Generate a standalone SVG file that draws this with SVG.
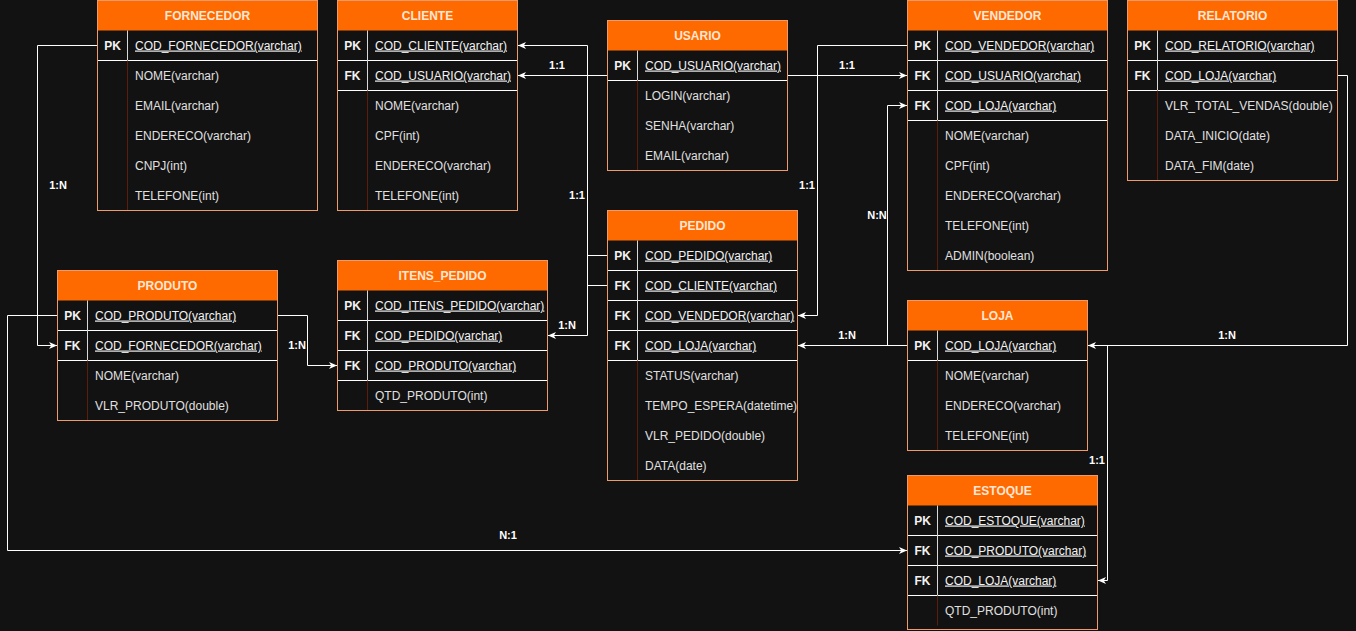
<svg xmlns="http://www.w3.org/2000/svg" width="1356" height="631" viewBox="0 0 1356 631">
  <defs>
    <style>
      .bg { fill: #121212; }
      .body { fill: #121212; stroke: none; }
      .head { fill: #FF6A00; stroke: none; }
      .frame { fill: none; stroke: #EE9A6A; stroke-width: 1; }
      .sep { stroke: #FFFFFF; stroke-width: 1; }
      .kdiv { stroke: #D8D8D8; stroke-width: 1; }
      .ddiv { stroke: #5A1E0A; stroke-width: 1; }
      .title { font-family: "Liberation Sans", Helvetica, Arial, sans-serif; font-size: 12px; font-weight: bold; fill: #FFE6D5; text-anchor: middle; }
      .key { font-family: "Liberation Sans", Helvetica, Arial, sans-serif; font-size: 12px; font-weight: bold; fill: #F2F2F2; text-anchor: middle; }
      .kname { font-family: "Liberation Sans", Helvetica, Arial, sans-serif; font-size: 12px; fill: #F2F2F2; text-decoration: underline; }
      .field { font-family: "Liberation Sans", Helvetica, Arial, sans-serif; font-size: 12px; fill: #E0E0E0; }
      .edge { fill: none; stroke: #FFFFFF; stroke-width: 1; marker-end: url(#arrow); }
      .line { fill: none; stroke: #FFFFFF; stroke-width: 1; }
      .card { font-family: "Liberation Sans", Helvetica, Arial, sans-serif; font-size: 11px; font-weight: bold; fill: #FFFFFF; text-anchor: middle; }
    </style>
    <marker id="arrow" markerUnits="userSpaceOnUse" markerWidth="9" markerHeight="8" refX="8" refY="4" orient="auto" viewBox="0 0 9 8">
      <path d="M0,0.5 L8,4 L0,7.5 L2.2,4 Z" fill="#FFFFFF"/>
    </marker>
  </defs>

  <rect class="bg" x="0" y="0" width="1356" height="631"/>

  <!-- relationship lines -->
  <g id="connectors">
    <path class="edge" d="M97.5,45.5 H37.5 V345.5 H57"/>
    <path class="edge" d="M57.5,315.5 H7.5 V550.5 H907"/>
    <path class="edge" d="M277.5,315.5 H307.5 V365.5 H337"/>
    <path class="edge" d="M607.5,255.5 H587.5 V335.5 H548"/>
    <path class="edge" d="M607.5,285.5 H587.5 V45.5 H518"/>
    <path class="edge" d="M607.5,75.5 H518"/>
    <path class="edge" d="M787.5,75.5 H907"/>
    <path class="edge" d="M907.5,45.5 H817.5 V315.5 H798"/>
    <path class="edge" d="M907.5,345.5 H798"/>
    <path class="edge" d="M887.5,345.5 V105.5 H907"/>
    <path class="edge" d="M1337.5,75.5 H1347.5 V345.5 H1088"/>
    <path class="edge" d="M1087.5,345.5 H1107.5 V580.5 H1098"/>

    <text class="card" x="58" y="189">1:N</text>
    <text class="card" x="508" y="539">N:1</text>
    <text class="card" x="297" y="349">1:N</text>
    <text class="card" x="567" y="329">1:N</text>
    <text class="card" x="577" y="199">1:1</text>
    <text class="card" x="557" y="69">1:1</text>
    <text class="card" x="847" y="69">1:1</text>
    <text class="card" x="807" y="189">1:1</text>
    <text class="card" x="847" y="339">1:N</text>
    <text class="card" x="877" y="219">N:N</text>
    <text class="card" x="1227" y="339">1:N</text>
    <text class="card" x="1097" y="464">1:1</text>
  </g>

  <!-- FORNECEDOR -->
  <g id="fornecedor">
    <rect class="body" x="97.5" y="0.5" width="220" height="210"/>
    <rect class="head" x="97.5" y="0.5" width="220" height="30"/>
    <text class="title" x="207.5" y="19.5">FORNECEDOR</text>
    <line class="sep" x1="97.5" y1="60.5" x2="317.5" y2="60.5"/>
    <line class="kdiv" x1="127.5" y1="30.5" x2="127.5" y2="60.5"/>
    <line class="ddiv" x1="127.5" y1="60.5" x2="127.5" y2="210.5"/>
    <text class="key" x="112.5" y="49.5">PK</text>
    <text class="kname" x="135" y="49.5">COD_FORNECEDOR(varchar)</text>
    <text class="field" x="135" y="79.5">NOME(varchar)</text>
    <text class="field" x="135" y="109.5">EMAIL(varchar)</text>
    <text class="field" x="135" y="139.5">ENDERECO(varchar)</text>
    <text class="field" x="135" y="169.5">CNPJ(int)</text>
    <text class="field" x="135" y="199.5">TELEFONE(int)</text>
    <rect class="frame" x="97.5" y="0.5" width="220" height="210"/>
  </g>

  <!-- CLIENTE -->
  <g id="cliente">
    <rect class="body" x="337.5" y="0.5" width="180" height="210"/>
    <rect class="head" x="337.5" y="0.5" width="180" height="30"/>
    <text class="title" x="427.5" y="19.5">CLIENTE</text>
    <line class="sep" x1="337.5" y1="60.5" x2="517.5" y2="60.5"/>
    <line class="sep" x1="337.5" y1="90.5" x2="517.5" y2="90.5"/>
    <line class="kdiv" x1="367.5" y1="30.5" x2="367.5" y2="90.5"/>
    <line class="ddiv" x1="367.5" y1="90.5" x2="367.5" y2="210.5"/>
    <text class="key" x="352.5" y="49.5">PK</text>
    <text class="kname" x="375" y="49.5">COD_CLIENTE(varchar)</text>
    <text class="key" x="352.5" y="79.5">FK</text>
    <text class="kname" x="375" y="79.5">COD_USUARIO(varchar)</text>
    <text class="field" x="375" y="109.5">NOME(varchar)</text>
    <text class="field" x="375" y="139.5">CPF(int)</text>
    <text class="field" x="375" y="169.5">ENDERECO(varchar)</text>
    <text class="field" x="375" y="199.5">TELEFONE(int)</text>
    <rect class="frame" x="337.5" y="0.5" width="180" height="210"/>
  </g>

  <!-- USARIO -->
  <g id="usario">
    <rect class="body" x="607.5" y="20.5" width="180" height="150"/>
    <rect class="head" x="607.5" y="20.5" width="180" height="30"/>
    <text class="title" x="697.5" y="39.5">USARIO</text>
    <line class="sep" x1="607.5" y1="80.5" x2="787.5" y2="80.5"/>
    <line class="kdiv" x1="637.5" y1="50.5" x2="637.5" y2="80.5"/>
    <line class="ddiv" x1="637.5" y1="80.5" x2="637.5" y2="170.5"/>
    <text class="key" x="622.5" y="69.5">PK</text>
    <text class="kname" x="645" y="69.5">COD_USUARIO(varchar)</text>
    <text class="field" x="645" y="99.5">LOGIN(varchar)</text>
    <text class="field" x="645" y="129.5">SENHA(varchar)</text>
    <text class="field" x="645" y="159.5">EMAIL(varchar)</text>
    <rect class="frame" x="607.5" y="20.5" width="180" height="150"/>
  </g>

  <!-- VENDEDOR -->
  <g id="vendedor">
    <rect class="body" x="907.5" y="0.5" width="200" height="270"/>
    <rect class="head" x="907.5" y="0.5" width="200" height="30"/>
    <text class="title" x="1007.5" y="19.5">VENDEDOR</text>
    <line class="sep" x1="907.5" y1="60.5" x2="1107.5" y2="60.5"/>
    <line class="sep" x1="907.5" y1="90.5" x2="1107.5" y2="90.5"/>
    <line class="sep" x1="907.5" y1="120.5" x2="1107.5" y2="120.5"/>
    <line class="kdiv" x1="937.5" y1="30.5" x2="937.5" y2="120.5"/>
    <line class="ddiv" x1="937.5" y1="120.5" x2="937.5" y2="270.5"/>
    <text class="key" x="922.5" y="49.5">PK</text>
    <text class="kname" x="945" y="49.5">COD_VENDEDOR(varchar)</text>
    <text class="key" x="922.5" y="79.5">FK</text>
    <text class="kname" x="945" y="79.5">COD_USUARIO(varchar)</text>
    <text class="key" x="922.5" y="109.5">FK</text>
    <text class="kname" x="945" y="109.5">COD_LOJA(varchar)</text>
    <text class="field" x="945" y="139.5">NOME(varchar)</text>
    <text class="field" x="945" y="169.5">CPF(int)</text>
    <text class="field" x="945" y="199.5">ENDERECO(varchar)</text>
    <text class="field" x="945" y="229.5">TELEFONE(int)</text>
    <text class="field" x="945" y="259.5">ADMIN(boolean)</text>
    <rect class="frame" x="907.5" y="0.5" width="200" height="270"/>
  </g>

  <!-- RELATORIO -->
  <g id="relatorio">
    <rect class="body" x="1127.5" y="0.5" width="210" height="180"/>
    <rect class="head" x="1127.5" y="0.5" width="210" height="30"/>
    <text class="title" x="1232.5" y="19.5">RELATORIO</text>
    <line class="sep" x1="1127.5" y1="60.5" x2="1337.5" y2="60.5"/>
    <line class="sep" x1="1127.5" y1="90.5" x2="1337.5" y2="90.5"/>
    <line class="kdiv" x1="1157.5" y1="30.5" x2="1157.5" y2="90.5"/>
    <line class="ddiv" x1="1157.5" y1="90.5" x2="1157.5" y2="180.5"/>
    <text class="key" x="1142.5" y="49.5">PK</text>
    <text class="kname" x="1165" y="49.5">COD_RELATORIO(varchar)</text>
    <text class="key" x="1142.5" y="79.5">FK</text>
    <text class="kname" x="1165" y="79.5">COD_LOJA(varchar)</text>
    <text class="field" x="1165" y="109.5">VLR_TOTAL_VENDAS(double)</text>
    <text class="field" x="1165" y="139.5">DATA_INICIO(date)</text>
    <text class="field" x="1165" y="169.5">DATA_FIM(date)</text>
    <rect class="frame" x="1127.5" y="0.5" width="210" height="180"/>
  </g>

  <!-- PRODUTO -->
  <g id="produto">
    <rect class="body" x="57.5" y="270.5" width="220" height="150"/>
    <rect class="head" x="57.5" y="270.5" width="220" height="30"/>
    <text class="title" x="167.5" y="289.5">PRODUTO</text>
    <line class="sep" x1="57.5" y1="330.5" x2="277.5" y2="330.5"/>
    <line class="sep" x1="57.5" y1="360.5" x2="277.5" y2="360.5"/>
    <line class="kdiv" x1="87.5" y1="300.5" x2="87.5" y2="360.5"/>
    <line class="ddiv" x1="87.5" y1="360.5" x2="87.5" y2="420.5"/>
    <text class="key" x="72.5" y="319.5">PK</text>
    <text class="kname" x="95" y="319.5">COD_PRODUTO(varchar)</text>
    <text class="key" x="72.5" y="349.5">FK</text>
    <text class="kname" x="95" y="349.5">COD_FORNECEDOR(varchar)</text>
    <text class="field" x="95" y="379.5">NOME(varchar)</text>
    <text class="field" x="95" y="409.5">VLR_PRODUTO(double)</text>
    <rect class="frame" x="57.5" y="270.5" width="220" height="150"/>
  </g>

  <!-- ITENS_PEDIDO -->
  <g id="itens_pedido">
    <rect class="body" x="337.5" y="260.5" width="210" height="150"/>
    <rect class="head" x="337.5" y="260.5" width="210" height="30"/>
    <text class="title" x="442.5" y="279.5">ITENS_PEDIDO</text>
    <line class="sep" x1="337.5" y1="320.5" x2="547.5" y2="320.5"/>
    <line class="sep" x1="337.5" y1="350.5" x2="547.5" y2="350.5"/>
    <line class="sep" x1="337.5" y1="380.5" x2="547.5" y2="380.5"/>
    <line class="kdiv" x1="367.5" y1="290.5" x2="367.5" y2="380.5"/>
    <line class="ddiv" x1="367.5" y1="380.5" x2="367.5" y2="410.5"/>
    <text class="key" x="352.5" y="309.5">PK</text>
    <text class="kname" x="375" y="309.5">COD_ITENS_PEDIDO(varchar)</text>
    <text class="key" x="352.5" y="339.5">FK</text>
    <text class="kname" x="375" y="339.5">COD_PEDIDO(varchar)</text>
    <text class="key" x="352.5" y="369.5">FK</text>
    <text class="kname" x="375" y="369.5">COD_PRODUTO(varchar)</text>
    <text class="field" x="375" y="399.5">QTD_PRODUTO(int)</text>
    <rect class="frame" x="337.5" y="260.5" width="210" height="150"/>
  </g>

  <!-- PEDIDO -->
  <g id="pedido">
    <rect class="body" x="607.5" y="210.5" width="190" height="270"/>
    <rect class="head" x="607.5" y="210.5" width="190" height="30"/>
    <text class="title" x="702.5" y="229.5">PEDIDO</text>
    <line class="sep" x1="607.5" y1="270.5" x2="797.5" y2="270.5"/>
    <line class="sep" x1="607.5" y1="300.5" x2="797.5" y2="300.5"/>
    <line class="sep" x1="607.5" y1="330.5" x2="797.5" y2="330.5"/>
    <line class="sep" x1="607.5" y1="360.5" x2="797.5" y2="360.5"/>
    <line class="kdiv" x1="637.5" y1="240.5" x2="637.5" y2="360.5"/>
    <line class="ddiv" x1="637.5" y1="360.5" x2="637.5" y2="480.5"/>
    <text class="key" x="622.5" y="259.5">PK</text>
    <text class="kname" x="645" y="259.5">COD_PEDIDO(varchar)</text>
    <text class="key" x="622.5" y="289.5">FK</text>
    <text class="kname" x="645" y="289.5">COD_CLIENTE(varchar)</text>
    <text class="key" x="622.5" y="319.5">FK</text>
    <text class="kname" x="645" y="319.5">COD_VENDEDOR(varchar)</text>
    <text class="key" x="622.5" y="349.5">FK</text>
    <text class="kname" x="645" y="349.5">COD_LOJA(varchar)</text>
    <text class="field" x="645" y="379.5">STATUS(varchar)</text>
    <text class="field" x="645" y="409.5">TEMPO_ESPERA(datetime)</text>
    <text class="field" x="645" y="439.5">VLR_PEDIDO(double)</text>
    <text class="field" x="645" y="469.5">DATA(date)</text>
    <rect class="frame" x="607.5" y="210.5" width="190" height="270"/>
  </g>

  <!-- LOJA -->
  <g id="loja">
    <rect class="body" x="907.5" y="300.5" width="180" height="150"/>
    <rect class="head" x="907.5" y="300.5" width="180" height="30"/>
    <text class="title" x="997.5" y="319.5">LOJA</text>
    <line class="sep" x1="907.5" y1="360.5" x2="1087.5" y2="360.5"/>
    <line class="kdiv" x1="937.5" y1="330.5" x2="937.5" y2="360.5"/>
    <line class="ddiv" x1="937.5" y1="360.5" x2="937.5" y2="450.5"/>
    <text class="key" x="922.5" y="349.5">PK</text>
    <text class="kname" x="945" y="349.5">COD_LOJA(varchar)</text>
    <text class="field" x="945" y="379.5">NOME(varchar)</text>
    <text class="field" x="945" y="409.5">ENDERECO(varchar)</text>
    <text class="field" x="945" y="439.5">TELEFONE(int)</text>
    <rect class="frame" x="907.5" y="300.5" width="180" height="150"/>
  </g>

  <!-- ESTOQUE -->
  <g id="estoque">
    <rect class="body" x="907.5" y="475.5" width="190" height="154"/>
    <rect class="head" x="907.5" y="475.5" width="190" height="30"/>
    <text class="title" x="1002.5" y="494.5">ESTOQUE</text>
    <line class="sep" x1="907.5" y1="535.5" x2="1097.5" y2="535.5"/>
    <line class="sep" x1="907.5" y1="565.5" x2="1097.5" y2="565.5"/>
    <line class="sep" x1="907.5" y1="595.5" x2="1097.5" y2="595.5"/>
    <line class="kdiv" x1="937.5" y1="505.5" x2="937.5" y2="595.5"/>
    <line class="ddiv" x1="937.5" y1="595.5" x2="937.5" y2="625.5"/>
    <text class="key" x="922.5" y="524.5">PK</text>
    <text class="kname" x="945" y="524.5">COD_ESTOQUE(varchar)</text>
    <text class="key" x="922.5" y="554.5">FK</text>
    <text class="kname" x="945" y="554.5">COD_PRODUTO(varchar)</text>
    <text class="key" x="922.5" y="584.5">FK</text>
    <text class="kname" x="945" y="584.5">COD_LOJA(varchar)</text>
    <text class="field" x="945" y="614.5">QTD_PRODUTO(int)</text>
    <rect class="frame" x="907.5" y="475.5" width="190" height="154"/>
  </g>
</svg>
